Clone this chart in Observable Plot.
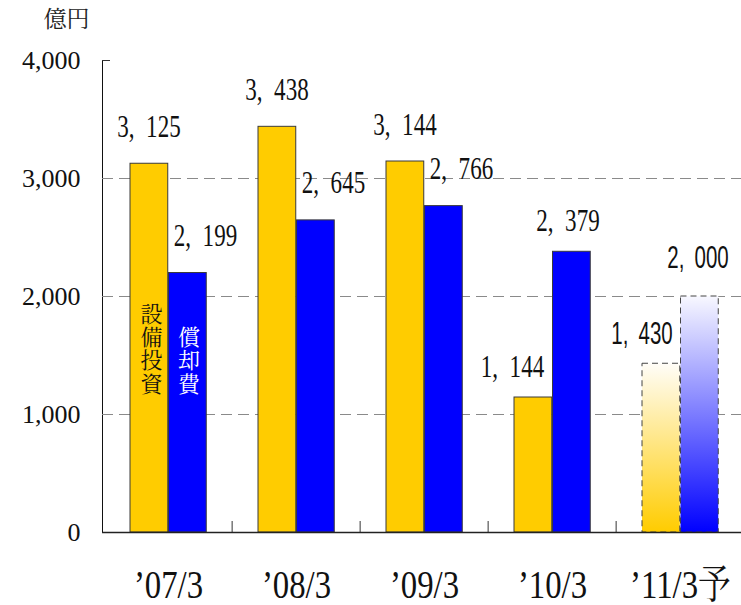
<!DOCTYPE html>
<html>
<head>
<meta charset="utf-8">
<script src="https://cdn.jsdelivr.net/npm/d3@7"></script>
<script src="https://cdn.jsdelivr.net/npm/@observablehq/plot@0.6"></script>
<style>
  html, body { margin: 0; padding: 0; background: #fff; }
  #chart svg { display: block; }
</style>
</head>
<body>
<div id="chart"></div>
<script>
// ---- data ----
const categories = ["’07/3", "’08/3", "’09/3", "’10/3", "’11/3予"];
const capex = [3125, 3438, 3144, 1144, 1430];          // 設備投資
const depreciation = [2199, 2645, 2766, 2379, 2000];   // 償却費
const isForecast = [false, false, false, false, true];
const yTicks = [0, 1000, 2000, 3000, 4000];
const gridTicks = [1000, 2000, 3000];
const unitLabel = "億円";
const capexName = "設備投資";
const depName = "償却費";

// ---- table built from arrays ----
const rows = categories.map((c, i) => ({cat: c, capex: capex[i], dep: depreciation[i], forecast: isForecast[i], i}));
const actual = rows.filter(d => !d.forecast);
const planned = rows.filter(d => d.forecast);

// ---- layout / style ----
const W = 741, H = 605, mL = 102, mT = 60, mB = 73;
const bw = 128.75;
const frameH = H - mT - mB;
const YELLOW = "#ffcc00", BLUE = "#0000ff";
const SERIF = "'Liberation Serif', 'Noto Serif CJK JP', serif";
const SANS = "'Liberation Sans', Arial, sans-serif";
const CJK = "'Noto Serif CJK JP', serif";
const fmt = v => d3.format(",")(v).replace(",", ",\u2002");
const vert = s => s.split("").join("\n");

// font sizes double as keys for the horizontal condensing below
const FS_SERIF = 32, FS_SANS = 31, FS_X = 40;
const condenseBy = {[FS_SERIF]: 0.72, [FS_SANS]: 0.66, [FS_X]: 0.82};

const serifLabel = (data, key, dx, dy) => Plot.text(data, {
  x: "cat", y: key, text: d => fmt(d[key]), dx, dy, lineAnchor: "bottom",
  fontFamily: SERIF, fontSize: FS_SERIF, fill: "#111"
});
const sansLabel = (data, key, dx, dy) => Plot.text(data, {
  x: "cat", y: key, text: d => fmt(d[key]), dx, dy, lineAnchor: "bottom",
  fontFamily: SANS, fontSize: FS_SANS, fill: "#111"
});

const chart = Plot.plot({
  width: W, height: H,
  marginLeft: mL, marginRight: 0, marginTop: mT, marginBottom: mB,
  style: {fontFamily: SERIF, fontSize: "26px", color: "#111", background: "#fff"},
  x: {domain: categories, range: [mL, mL + 5 * bw], padding: 0, axis: null},
  y: {domain: [0, 4000], ticks: yTicks, tickFormat: d3.format(","), tickSize: 0, tickPadding: 22, line: true, label: null},
  marks: [
    Plot.ruleY(gridTicks, {stroke: "#8a8a8a", strokeWidth: 1, strokeDasharray: "11,6"}),
    Plot.ruleY([4000], {stroke: "#333", strokeWidth: 1, insetRight: W - mL - 8}),
    Plot.ruleX(categories.slice(1), {x: d => d, dx: -bw / 2, insetTop: frameH - 11, stroke: "#333", strokeWidth: 1}),
    Plot.barY(actual, {x: "cat", y: "capex", fill: YELLOW, stroke: "#3a3a3a", strokeWidth: 1, insetLeft: 26, insetRight: bw - 26 - 38.5}),
    Plot.barY(actual, {x: "cat", y: "dep", fill: BLUE, stroke: "#3a3a3a", strokeWidth: 1, insetLeft: 64.5, insetRight: bw - 64.5 - 38.5}),
    Plot.barY(planned, {x: "cat", y: "capex", fill: "url(#gradCapex)", stroke: "#444", strokeWidth: 1, strokeDasharray: "6,4", insetLeft: 26, insetRight: bw - 26 - 38.5}),
    Plot.barY(planned, {x: "cat", y: "dep", fill: "url(#gradDep)", stroke: "#444", strokeWidth: 1, strokeDasharray: "6,4", insetLeft: 64.5, insetRight: bw - 64.5 - 38.5}),
    Plot.ruleY([0], {stroke: "#222", strokeWidth: 1.5}),
    serifLabel(actual.filter(d => d.i < 3), "capex", -19.5, -27),
    serifLabel(actual.filter(d => d.i === 3), "capex", -40, -21),
    serifLabel(actual.filter(d => d.i < 3), "dep", 37, -27),
    serifLabel(actual.filter(d => d.i === 3), "dep", 15.5, -21),
    sansLabel(planned, "capex", -38.5, -20),
    sansLabel(planned, "dep", 17.5, -29),
    Plot.text(rows.filter(d => d.i === 0), {x: "cat", text: () => vert(capexName), frameAnchor: "bottom", lineAnchor: "bottom", dx: -17, dy: -141, fontFamily: CJK, fontSize: 22, lineHeight: 1.06, fill: "#111"}),
    Plot.text(rows.filter(d => d.i === 0), {x: "cat", text: () => vert(depName), frameAnchor: "bottom", lineAnchor: "bottom", dx: 20.5, dy: -141, fontFamily: CJK, fontSize: 22, lineHeight: 1.06, fill: "#fff"}),
    Plot.text(rows, {x: "cat", text: "cat", frameAnchor: "bottom", lineAnchor: "bottom", dy: 65, fontFamily: SERIF, fontSize: FS_X, fill: "#111"}),
    Plot.text([unitLabel], {text: d => d, frameAnchor: "top-left", textAnchor: "middle", lineAnchor: "bottom", dx: -36, dy: -34, fontFamily: CJK, fontSize: 23, fill: "#222"})
  ]
});

const svgNode = chart.tagName.toLowerCase() === "svg" ? chart : chart.querySelector("svg");
const svg = d3.select(svgNode);
const defs = svg.insert("defs", ":first-child");
function grad(id, bottom, top) {
  const g = defs.append("linearGradient").attr("id", id).attr("x1", 0).attr("y1", 1).attr("x2", 0).attr("y2", 0);
  g.append("stop").attr("offset", "0%").attr("stop-color", bottom);
  g.append("stop").attr("offset", "100%").attr("stop-color", top);
}
grad("gradCapex", YELLOW, "#fffdf8");
grad("gradDep", BLUE, "#f8f8ff");

// horizontally condense the narrow-digit texts
svg.selectAll("text").each(function () {
  const holder = this.closest("[font-size]");
  if (!holder) return;
  const sx = condenseBy[parseFloat(holder.getAttribute("font-size"))];
  if (!sx) return;
  const t = d3.select(this);
  let tr = t.attr("transform") || "";
  const x = t.attr("x"), y = t.attr("y");
  if (x != null || y != null) {
    tr = `${tr} translate(${+x || 0},${+y || 0})`;
    t.attr("x", null).attr("y", null);
  }
  t.attr("transform", `${tr} scale(${sx},1)`);
});

document.getElementById("chart").appendChild(chart);
</script>
</body>
</html>
